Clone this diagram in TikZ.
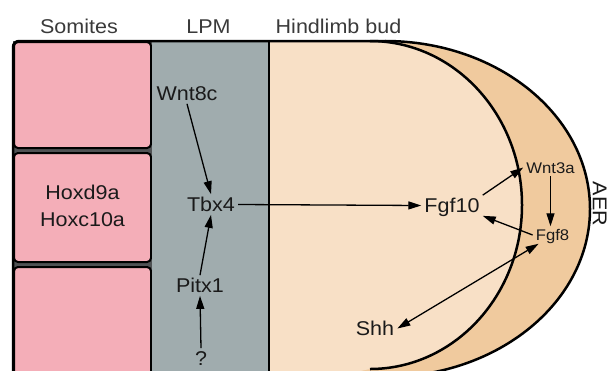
\documentclass[tikz,border=0pt]{standalone}
\usepackage{fontspec}
\setmainfont{Liberation Sans}
\newfontfamily\lblfont[FakeStretch=1.08]{Liberation Sans}
\usetikzlibrary{arrows.meta,calc}
\definecolor{somite}{HTML}{F4AEB8}
\definecolor{gapgrey}{HTML}{505254}
\definecolor{lpmgrey}{HTML}{A0ACAE}
\definecolor{budpeach}{HTML}{F8E0C6}
\definecolor{aerpeach}{HTML}{F0CA9E}
\definecolor{hdrtext}{HTML}{3A3A3A}
\definecolor{nodetext}{HTML}{1A1A1A}
\begin{document}
\begin{tikzpicture}[x=1bp,y=-1bp,
  lbl/.style={font=\lblfont\fontsize{20}{24}\selectfont, text=nodetext, inner sep=3bp, text height=14.3bp, text depth=0bp},
  sml/.style={lbl, font=\lblfont\fontsize{15.5}{18}\selectfont, text height=11.1bp},
  hdr/.style={lbl, text=hdrtext},
  arr/.style={-{Triangle[length=13bp,width=8bp]}, line width=1.3bp, draw=black},
  dbl/.style={{Triangle[length=13bp,width=8bp]}-{Triangle[length=13bp,width=8bp]}, line width=1.3bp, draw=black},
  border/.style={line width=2.5bp, draw=black},
  somitebox/.style={fill=somite, draw=black, line width=2bp, rounded corners=4bp}]
\useasboundingbox (0,0) rectangle (614,370);
\clip (0,0) rectangle (614,370);
% limb bud regions
\fill[aerpeach] (269,41) -- (385,41) arc[start angle=-90,end angle=90,x radius=205,y radius=168] -- (269,390) -- cycle;
\fill[budpeach] (269,41) -- (370,41) arc[start angle=-90,end angle=90,x radius=152,y radius=164] -- (269,390) -- cycle;
\draw[border] (385,41) arc[start angle=-90,end angle=90,x radius=205,y radius=168];
\draw[border] (370,41) arc[start angle=-90,end angle=90,x radius=152,y radius=164];
% somites column
\fill[gapgrey] (13,41) rectangle (152,390);
\draw[somitebox] (14,42) rectangle (151,148);
\draw[somitebox] (14,153) rectangle (151,262);
\draw[somitebox] (14,267) rectangle (151,395);
% LPM column
\fill[lpmgrey] (152,41) rectangle (268,390);
\draw[line width=2bp] (269,41) -- (269,390);
% frame
\draw[border, rounded corners=6bp] (13,390) -- (13,41) -- (386,41);
% headers
\node[hdr] (hdrS) at (79,26.5) {Somites};
\node[hdr] (hdrL) at (208.5,26.5) {LPM};
\node[hdr] (hdrH) at (338.5,26.5) {Hindlimb bud};
% genes
\node[font=\lblfont\fontsize{20}{27}\selectfont, text=nodetext, align=center, inner sep=0pt] (hox) at (82.5,206) {Hoxd9a\\Hoxc10a};
\node[lbl] (wnt8c) at (187,93.5) {Wnt8c};
\node[lbl] (tbx4) at (211,204.5) {Tbx4};
\node[lbl] (pitx1) at (200,285.5) {Pitx1};
\node[lbl] (q) at (201,358.5) {?};
\node[lbl] (fgf10) at (452,205.5) {Fgf10};
\node[sml] (wnt3a) at (550.5,167.5) {Wnt3a};
\node[sml] (fgf8) at (552.5,235) {Fgf8};
\node[lbl] (shh) at (375,328.5) {Shh};
\node[lbl, rotate=-90] (aer) at (600,204) {AER};
% connectors
\draw[arr] (wnt8c.south) -- (tbx4.north);
\draw[arr] (pitx1.north) -- (tbx4.south);
\draw[arr] (q.north) -- (pitx1.south);
\draw[arr] (tbx4.east) -- (fgf10.west);
\draw[arr] (fgf10.north east) -- (wnt3a.west);
\draw[arr] (wnt3a.south) -- (wnt3a.south |- fgf8.north);
\draw[arr] (fgf8.west) -- (fgf10.south east);
\draw[dbl] ($(fgf8.south west)+(6,0)$) -- (shh.east);
\end{tikzpicture}
\end{document}
